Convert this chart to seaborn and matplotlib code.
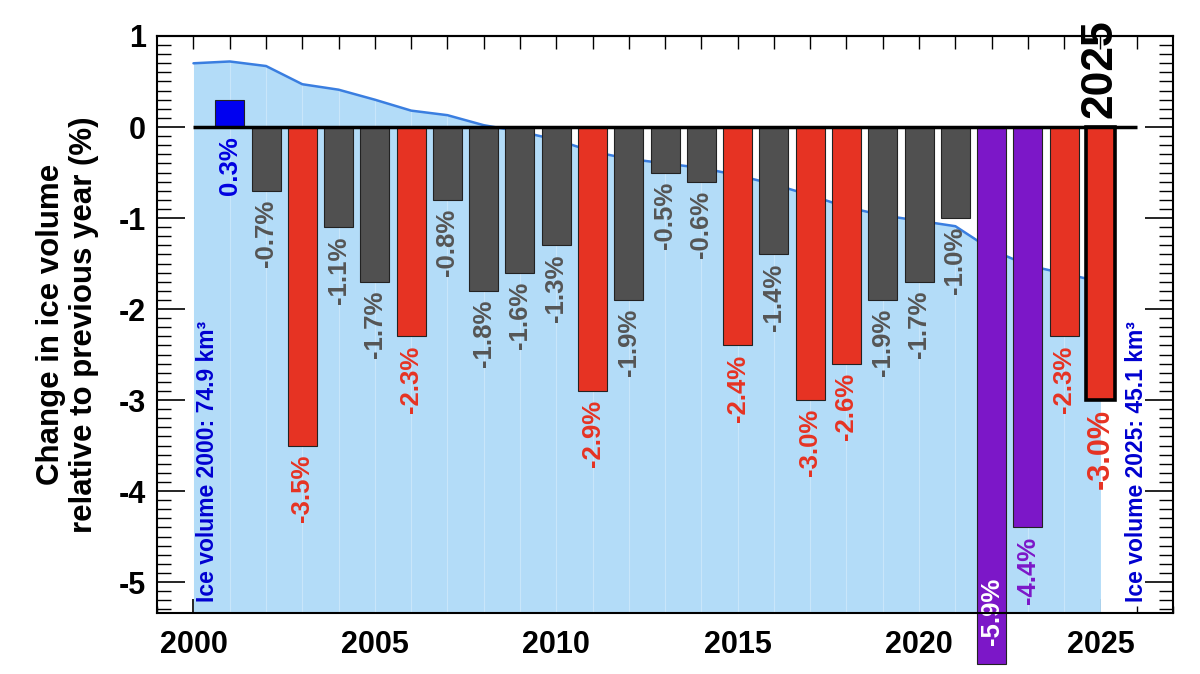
import numpy as np
import pandas as pd
import seaborn as sns
import matplotlib.pyplot as plt
from matplotlib.ticker import MultipleLocator

# yearly change of ice volume (%) and the scaled ice volume curve
years = list(range(2001, 2026))
change = [0.3, -0.7, -3.5, -1.1, -1.7, -2.3, -0.8, -1.8, -1.6, -1.3,
          -2.9, -1.9, -0.5, -0.6, -2.4, -1.4, -3.0, -2.6, -1.9, -1.7,
          -1.0, -5.9, -4.4, -2.3, -3.0]
vol_years = list(range(2000, 2026))
vol_index = [0.70, 0.72, 0.67, 0.47, 0.41, 0.30, 0.18, 0.13, 0.02, -0.05,
             -0.14, -0.27, -0.35, -0.40, -0.45, -0.53, -0.63, -0.75, -0.88, -0.97,
             -1.03, -1.09, -1.35, -1.52, -1.61, -1.70]
vol_first = "Ice volume 2000: 74.9 km³"
vol_last = "Ice volume 2025: 45.1 km³"

bar_col = {"pos": "#0000f0", "small": "#505050", "large": "#e63323", "extreme": "#7c17c8"}
txt_col = {"pos": "#0000e0", "small": "#555555", "large": "#e63323", "extreme": "#7c17c8"}


def kind(v):
    if v > 0:
        return "pos"
    if v <= -4:
        return "extreme"
    if v <= -2:
        return "large"
    return "small"


df = pd.DataFrame({"year": years, "change": change})
df["kind"] = [kind(v) for v in change]

sns.set_style("ticks")
plt.rcParams['font.family'] = ['Liberation Sans', 'DejaVu Sans']
plt.rcParams['font.weight'] = 'bold'
plt.rcParams['axes.unicode_minus'] = False
plt.rcParams['text.color'] = 'black'
plt.rcParams['axes.labelcolor'] = 'black'
plt.rcParams['xtick.color'] = 'black'
plt.rcParams['ytick.color'] = 'black'

fig, ax = plt.subplots(figsize=(12, 6.74), dpi=100)
fig.subplots_adjust(left=0.131, right=0.9775, bottom=0.0905, top=0.9466)

ymin, ymax = -5.34, 1.0

# ice volume area + line
ax.fill_between(vol_years, vol_index, ymin - 1, color="#b3dcf8", lw=0, zorder=1)
ax.vlines(vol_years[1:-1], ymin - 1, vol_index[1:-1], color="white", alpha=0.3, lw=0.8, zorder=1.5)
sns.lineplot(x=vol_years, y=vol_index, color="#3a7ee0", lw=1.8, ax=ax, zorder=2)

sns.barplot(data=df, x="year", y="change", hue="kind", palette=bar_col,
            native_scale=True, dodge=False, width=0.8, errorbar=None,
            saturation=1, legend=False, ax=ax, zorder=3)

for p in ax.patches:
    yr = int(round(p.get_x() + p.get_width() / 2))
    p.set_edgecolor("#222222")
    p.set_linewidth(0.8)
    p.set_clip_on(False)
    if yr == 2025:
        p.set_edgecolor("black")
        p.set_linewidth(2.6)

ax.hlines(0, 2000, 2026, color="black", lw=2.5, zorder=5)

# value labels
for yr, v, k in zip(years, change, df["kind"]):
    s = f"{v:.1f}%"
    fs = 22 if yr == 2025 else 18.5
    if v < -5:
        ax.text(yr, -4.95, s, rotation=90, ha="center", va="top", color="white",
                fontsize=fs, fontweight="bold", zorder=6)
    else:
        y0 = min(v, 0) - 0.1
        ax.text(yr, y0, s, rotation=90, ha="center", va="top", color=txt_col[k],
                fontsize=fs, fontweight="bold", zorder=6)

ax.text(2025, 0.1, "2025", rotation=90, ha="center", va="bottom", fontsize=32,
        fontweight="bold", color="black", zorder=6)
ax.text(2000.4, -5.22, vol_first, rotation=90, ha="center", va="bottom",
        fontsize=16.5, fontweight="bold", color="#0000d0", zorder=6)
ax.text(2026.0, -5.22, vol_last, rotation=90, ha="center", va="bottom",
        fontsize=16.5, fontweight="bold", color="#0000d0", zorder=6)

ax.set_xlim(1999, 2027)
ax.set_ylim(ymin, ymax)
ax.xaxis.set_major_locator(MultipleLocator(5))
ax.xaxis.set_minor_locator(MultipleLocator(1))
ax.yaxis.set_major_locator(MultipleLocator(1))
ax.yaxis.set_minor_locator(MultipleLocator(0.1))
ax.tick_params(axis="x", which="major", direction="in", length=10, width=1.2,
               labelsize=22, pad=12)
ax.tick_params(axis="x", which="minor", direction="in", length=5, width=1.0)
ax.tick_params(axis="y", which="major", direction="in", length=20, width=1.2,
               labelsize=22, left=True, right=True, pad=8)
ax.tick_params(axis="y", which="minor", direction="in", length=10, width=1.0,
               left=True, right=True)
for lab in ax.get_xticklabels() + ax.get_yticklabels():
    lab.set_fontweight("bold")

top = ax.secondary_xaxis("top")
top.set_xticks(range(2000, 2027))
top.tick_params(direction="in", length=9, width=1.0, labeltop=False, color="black")
top.spines["top"].set_linewidth(1.5)

for sp in ax.spines.values():
    sp.set_linewidth(1.5)
    sp.set_color("black")
    sp.set_zorder(7)

ax.set_xlabel("")
ax.set_ylabel("Change in ice volume\nrelative to previous year (%)", fontsize=22.5,
              fontweight="bold", labelpad=14, linespacing=1.15)

plt.savefig("out.png", dpi=100)
